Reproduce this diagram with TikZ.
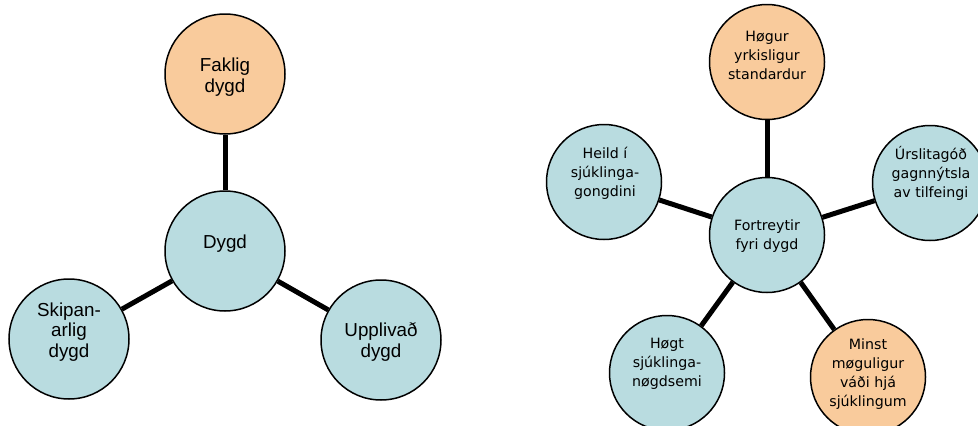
\documentclass[tikz,border=0pt]{standalone}
\usepackage{fontspec}
\newfontfamily\arialf{Liberation Sans}
\newfontfamily\verdf{DejaVu Sans}
\definecolor{orfill}{HTML}{F9CB9C}
\definecolor{blfill}{HTML}{B9DCE0}
\begin{document}
\begin{tikzpicture}[x=1pt,y=-1pt,
  circL/.style={circle,draw=black,line width=1.5pt,minimum size=120pt,inner sep=0pt},
  circR/.style={circle,draw=black,line width=1.5pt,minimum size=115pt,inner sep=0pt},
  orc/.style={fill=orfill},
  blc/.style={fill=blfill},
  txtL/.style={align=center,font=\arialf\fontsize{18.8}{20.5}\selectfont,inner sep=0pt},
  txtR/.style={align=center,font=\verdf\fontsize{14.2}{19}\selectfont,inner sep=0pt},
  conn/.style={line width=5pt,black}]
\useasboundingbox (0,0) rectangle (978,426);
\clip (0,0) rectangle (978,426);
% left diagram
\node[circL,orc] (fak) at (225,74) {};
\node[circL,blc] (dyg) at (225,251) {};
\node[circL,blc] (ski) at (69,339) {};
\node[circL,blc] (upp) at (381,340) {};
\draw[conn] (dyg) -- (fak);
\draw[conn] (dyg) -- (ski);
\draw[conn] (dyg) -- (upp);
\node[txtL] (fak-t) at (225,77) {Faklig\\dygd};
\node[txtL] (dyg-t) at (225,244) {Dygd};
\node[txtL] (ski-t) at (69,332) {Skipan-\\arlig\\dygd};
\node[txtL] (upp-t) at (381,342) {Upplivað\\dygd};
% right diagram
\node[circR,blc] (for) at (767,235) {};
\node[circR,orc] (hog) at (767,62) {};
\node[circR,blc] (hei) at (604,182) {};
\node[circR,blc] (urs) at (930,183) {};
\node[circR,blc] (hgt) at (667,373) {};
\node[circR,orc] (min) at (868,377) {};
\draw[conn] (for) -- (hog);
\draw[conn] (for) -- (hei);
\draw[conn] (for) -- (urs);
\draw[conn] (for) -- (hgt);
\draw[conn] (for) -- (min);
\node[txtR] (for-t) at (767,236) {Fortreytir\\fyri dygd};
\node[txtR] (hog-t) at (767,55) {Høgur\\yrkisligur\\standardur};
\node[txtR] (hei-t) at (605,173) {Heild í\\sjúklinga-\\gongdini};
\node[txtR] (urs-t) at (931,173) {Úrslitagóð\\gagnnýtsla\\av tilfeingi};
\node[txtR] (hgt-t) at (667,364) {Høgt\\sjúklinga-\\nøgdsemi};
\node[txtR] (min-t) at (868,374) {Minst\\møguligur\\váði hjá\\sjúklingum};
\end{tikzpicture}
\end{document}
